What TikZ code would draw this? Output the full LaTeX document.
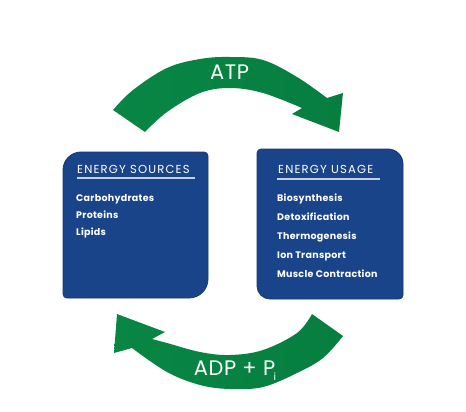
\documentclass[tikz,border=0pt]{standalone}
\usepackage{fontspec}
\setmainfont{Poppins}
\definecolor{boxblue}{RGB}{26,68,138}
\definecolor{boxedge}{RGB}{20,56,118}
\definecolor{rulecol}{RGB}{196,208,228}
\definecolor{gA}{RGB}{8,134,68}
\definecolor{gB}{RGB}{14,150,78}
\definecolor{gC}{RGB}{6,126,64}
\tikzset{
  boxshape/.style={fill=boxblue, draw=boxedge, line width=0.8pt},
  arrowshape/.style={left color=gA, middle color=gB, right color=gC},
  headtext/.style={anchor=base west, text=white, inner sep=0pt, font=\fontsize{11.6}{13}\selectfont\addfontfeature{LetterSpace=10}},
  itemtext/.style={anchor=base west, text=white, inner sep=0pt, font=\bfseries\fontsize{9.5}{11}\selectfont\addfontfeature{LetterSpace=3}},
  rulestyle/.style={draw=rulecol, line width=1.1pt},
  arrowlabel/.style={text=white, inner sep=0pt, font=\fontsize{21}{24}\selectfont\addfontfeature{LetterSpace=3}}
}
\begin{document}
\begin{tikzpicture}[x=1pt, y=-1pt]
\useasboundingbox[fill=white] (0,0) rectangle (466,412);

% top arrow (ATP)
\shade[arrowshape] (113,110) -- plot[smooth, tension=0.6] coordinates {(113,110) (133,90) (167,68) (200,59) (230,57) (263,60) (297,77) (327,98)}
  -- (343,93) -- (339,132) -- (292,114) -- (302,108)
  -- plot[smooth, tension=0.6] coordinates {(302,108) (263,93) (230,88) (200,93) (167,112) (145,132)} -- cycle;
\node[arrowlabel] (atp) at (229.5,72) {ATP};

% bottom arrow (ADP + Pi)
\shade[arrowshape] (312,314) -- (343,336)
  -- plot[smooth, tension=0.6] coordinates {(343,336) (323,358) (297,373) (263,387) (230,389) (200,385) (167,372) (132,348)}
  -- (114,353) -- (117,314) -- (165,332) -- (152,339)
  -- plot[smooth, tension=0.6] coordinates {(152,339) (167,343) (200,352) (230,355) (263,350) (297,333) (312,314)} -- cycle;
\node[arrowlabel] (adp) at (235,371) {ADP + P\kern-1.5pt\raisebox{-0.45ex}{\fontsize{10}{10}\selectfont i}};

% left box
\path[boxshape] (63,170) arc[start angle=180, end angle=270, radius=18] -- (204,152)
  arc[start angle=270, end angle=360, radius=4] -- (208,279)
  arc[start angle=0, end angle=90, radius=19] -- (67,298)
  arc[start angle=90, end angle=180, radius=4] -- cycle;
\node[headtext] (srchead) at (77,173) {ENERGY SOURCES};
\coordinate (srcruleA) at (77,178);
\coordinate (srcruleB) at (195,178);
\draw[rulestyle] (srcruleA) -- (srcruleB);
\node[itemtext] (carb) at (76,201.5) {Carbohydrates};
\node[itemtext] (prot) at (76,218) {Proteins};
\node[itemtext] (lip) at (76,235.5) {Lipids};

% right box
\path[boxshape] (257,153) arc[start angle=180, end angle=270, radius=4] -- (388,149)
  arc[start angle=270, end angle=360, radius=15] -- (403,295)
  arc[start angle=0, end angle=90, radius=4] -- (270,299)
  arc[start angle=90, end angle=180, radius=13] -- cycle;
\node[headtext] (usehead) at (278,173) {ENERGY USAGE};
\coordinate (useruleA) at (277,179);
\coordinate (useruleB) at (380,179);
\draw[rulestyle] (useruleA) -- (useruleB);
\node[itemtext] (bio) at (277,201) {Biosynthesis};
\node[itemtext] (detox) at (277,220) {Detoxification};
\node[itemtext] (thermo) at (277,239) {Thermogenesis};
\node[itemtext] (ion) at (277,258.5) {Ion Transport};
\node[itemtext] (musc) at (277,277.5) {Muscle Contraction};
\end{tikzpicture}
\end{document}
